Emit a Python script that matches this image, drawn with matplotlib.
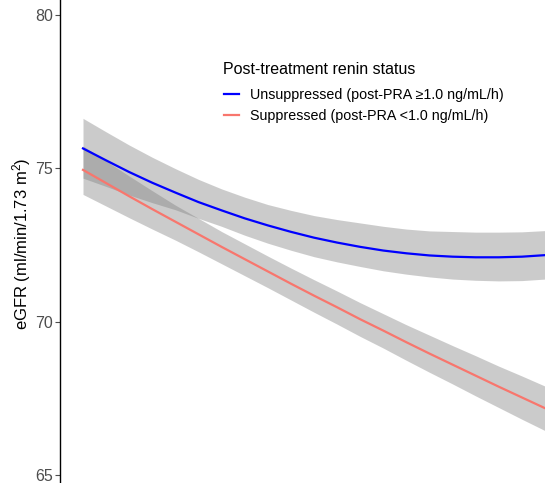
#!/usr/bin/env python3
# -*- coding: utf-8 -*-

import matplotlib
matplotlib.use("Agg")
import matplotlib.pyplot as plt
import numpy as np

# follow-up positions (arbitrary units, the x axis is cut off in the reference)
czas = [0, 0.5, 1, 1.5, 2, 2.5, 3, 3.5, 4, 4.5, 5,
        5.5, 6, 6.5, 7, 7.5, 8, 8.5, 9, 9.5, 10]

# Unsuppressed (post-PRA >= 1.0 ng/mL/h)
unsup = [75.65, 75.26, 74.88, 74.53, 74.21, 73.90, 73.63, 73.37, 73.14, 72.93, 72.74,
         72.58, 72.44, 72.32, 72.23, 72.16, 72.12, 72.10, 72.10, 72.12, 72.17]
unsup_gora = [0.98, 0.93, 0.88, 0.83, 0.78, 0.74, 0.70, 0.69, 0.68, 0.70, 0.72,
              0.75, 0.78, 0.79, 0.79, 0.80, 0.82, 0.82, 0.82, 0.81, 0.80]
unsup_dol = [0.97, 0.85, 0.75, 0.65, 0.56, 0.53, 0.52, 0.55, 0.58, 0.60, 0.62,
             0.63, 0.64, 0.66, 0.68, 0.70, 0.73, 0.75, 0.77, 0.78, 0.78]

# Suppressed (post-PRA < 1.0 ng/mL/h)
sup = [74.95, 74.52, 74.09, 73.67, 73.26, 72.85, 72.44, 72.04, 71.64, 71.24, 70.85,
       70.47, 70.08, 69.71, 69.33, 68.96, 68.60, 68.24, 67.88, 67.53, 67.18]
sup_gora = [0.78, 0.72, 0.66, 0.60, 0.54, 0.52, 0.50, 0.50, 0.50, 0.51, 0.52,
            0.53, 0.54, 0.55, 0.57, 0.60, 0.62, 0.65, 0.67, 0.70, 0.72]
sup_dol = [0.80, 0.75, 0.70, 0.65, 0.60, 0.57, 0.55, 0.54, 0.53, 0.53, 0.54,
           0.55, 0.56, 0.57, 0.59, 0.61, 0.63, 0.66, 0.68, 0.71, 0.73]

y_ticks = [65, 70, 75, 80]

def main():
    plt.rcParams['font.family'] = ['Liberation Sans', 'DejaVu Sans']
    plt.rcParams['mathtext.fontset'] = 'custom'
    plt.rcParams['mathtext.rm'] = 'Liberation Sans'
    plt.rcParams['mathtext.it'] = 'Liberation Sans'

    fig = plt.figure(figsize=(5.45, 4.83), dpi=100)
    ax = fig.add_axes([60 / 545, 0, 1 - 60 / 545, 1])

    x = np.array(czas)
    u = np.array(unsup)
    s = np.array(sup)

    ax.fill_between(x, u - np.array(unsup_dol), u + np.array(unsup_gora),
                    color='#7f7f7f', alpha=0.4, linewidth=0)
    ax.fill_between(x, s - np.array(sup_dol), s + np.array(sup_gora),
                    color='#7f7f7f', alpha=0.4, linewidth=0)
    ax.plot(x, u, color='#0000ff', linewidth=1.6,
            label='Unsuppressed (post-PRA \u22651.0 ng/mL/h)')
    ax.plot(x, s, color='#f8766d', linewidth=1.6,
            label='Suppressed (post-PRA <1.0 ng/mL/h)')

    ax.set_xlim(-23 / 46.2, 10)
    ax.set_ylim(80 - 468 / 30.67, 80 + 15 / 30.67)
    ax.set_yticks(y_ticks)
    ax.set_yticklabels([str(t) for t in y_ticks])
    ax.tick_params(axis='y', colors='#4d4d4d', labelsize=11.5, length=3.5,
                   width=0.8, pad=1.5)
    ax.set_xticks([])
    for side in ['top', 'right', 'bottom']:
        ax.spines[side].set_visible(False)
    ax.spines['left'].set_color('black')
    ax.spines['left'].set_linewidth(1.0)

    fig.text(22 / 545, 1 - 244 / 483, 'eGFR (ml/min/1.73 m$^2$)', rotation=90,
             ha='center', va='center', fontsize=12, color='black')

    # legend title placed by hand (ggplot leaves a larger gap under the title)
    fig.text(223 / 545, 1 - 70 / 483, 'Post-treatment renin status',
             ha='left', va='center', fontsize=11.5, color='black')
    ax.legend(loc='upper left', bbox_to_anchor=(224 / 545, 1 - 88.5 / 483),
              bbox_transform=fig.transFigure, frameon=False,
              fontsize=10.3, handlelength=1.05, handletextpad=0.75,
              labelspacing=0.43, borderpad=0, borderaxespad=0)

    fig.savefig('out.png', dpi=100)

if __name__ == '__main__':
    main()
